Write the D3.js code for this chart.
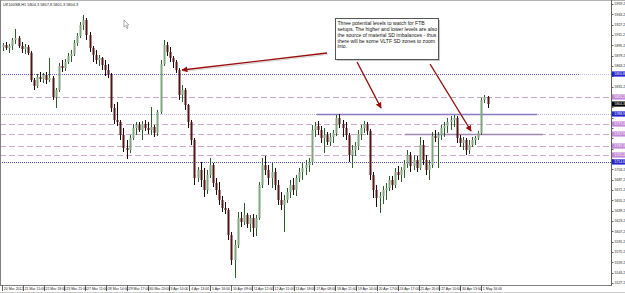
<!DOCTYPE html>
<html><head><meta charset="utf-8">
<script src="https://cdn.jsdelivr.net/npm/d3@7"></script>
<style>
html,body{margin:0;padding:0;background:#fff;overflow:hidden}
svg{display:block;font-family:"Liberation Sans",Arial,sans-serif}
</style>
</head><body>
<svg id="c" width="625" height="293"></svg>
<script>
// ---------------- DATA ----------------
const symbolTitle = "UK100SB,H1";
const lastQuote = [5804.3, 5807.8, 5801.3, 5804.3];
const barHours = 4; // each candle below aggregates 4 hourly bars
// [open, high, low, close]
const bars = [
[5892.6,5898.8,5886.4,5895.7],[5895.7,5900.4,5888.0,5891.1],[5891.1,5897.3,5883.3,5894.2],[5894.2,5906.6,5888.0,5903.5],
[5903.5,5920.5,5897.3,5906.6],[5906.6,5909.7,5891.1,5894.2],[5894.2,5900.4,5883.3,5889.5],[5889.5,5897.3,5881.8,5892.6],
[5892.6,5895.7,5880.2,5883.3],[5883.3,5886.4,5838.4,5841.5],[5841.5,5844.6,5826.0,5832.2],[5832.2,5850.8,5829.1,5846.2],
[5846.2,5853.9,5838.4,5843.1],[5843.1,5852.4,5836.9,5849.3],[5849.3,5853.9,5835.3,5841.5],[5841.5,5875.6,5838.4,5844.6],
[5844.6,5847.7,5810.6,5815.2],[5815.2,5829.1,5798.2,5826.0],[5826.0,5867.9,5822.9,5863.2],[5863.2,5872.5,5853.9,5860.1],
[5860.1,5874.0,5855.5,5869.4],[5869.4,5883.3,5866.3,5878.7],[5878.7,5888.0,5869.4,5881.8],[5881.8,5903.5,5878.7,5898.8],
[5898.8,5914.3,5894.2,5909.7],[5909.7,5931.3,5906.6,5926.7],[5926.7,5942.2,5918.9,5934.4],[5934.4,5937.5,5903.5,5911.2],
[5911.2,5915.9,5884.9,5891.1],[5891.1,5894.2,5869.4,5880.2],[5880.2,5888.0,5866.3,5872.5],[5872.5,5880.2,5863.2,5875.6],
[5875.6,5877.1,5857.0,5864.8],[5864.8,5872.5,5847.7,5857.0],[5857.0,5866.3,5844.6,5849.3],[5849.3,5852.4,5792.0,5798.2],
[5798.2,5804.4,5773.4,5779.6],[5779.6,5807.5,5770.3,5776.5],[5776.5,5779.6,5748.6,5756.4],[5756.4,5767.2,5730.0,5736.2],
[5736.2,5748.6,5719.2,5733.1],[5733.1,5756.4,5728.5,5751.7],[5751.7,5773.4,5748.6,5767.2],[5767.2,5776.5,5756.4,5771.8],
[5771.8,5776.5,5761.0,5764.1],[5764.1,5778.0,5748.6,5773.4],[5773.4,5779.6,5762.6,5767.2],[5767.2,5776.5,5757.9,5764.1],
[5764.1,5799.7,5756.4,5768.8],[5768.8,5771.8,5753.3,5759.5],[5759.5,5795.1,5754.8,5792.0],[5792.0,5872.5,5788.9,5866.3],
[5866.3,5903.5,5863.2,5895.7],[5895.7,5900.4,5878.7,5884.9],[5884.9,5892.6,5869.4,5875.6],[5875.6,5878.7,5860.1,5869.4],
[5869.4,5872.5,5852.4,5857.0],[5857.0,5860.1,5810.6,5818.3],[5818.3,5833.8,5807.5,5826.0],[5826.0,5829.1,5795.1,5802.8],
[5802.8,5804.4,5767.2,5776.5],[5776.5,5779.6,5740.9,5748.6],[5748.6,5751.7,5678.9,5689.8],[5689.8,5706.8,5683.6,5702.2],
[5702.2,5714.6,5675.8,5686.7],[5686.7,5705.3,5660.4,5671.2],[5671.2,5702.2,5665.0,5694.4],[5694.4,5720.8,5689.8,5709.9],
[5709.9,5713.0,5675.8,5682.0],[5682.0,5689.8,5663.5,5671.2],[5671.2,5683.6,5648.0,5655.7],[5655.7,5661.9,5637.1,5643.3],
[5643.3,5652.6,5634.0,5640.2],[5640.2,5643.3,5593.8,5601.5],[5601.5,5606.2,5555.1,5562.8],[5562.8,5593.8,5534.9,5586.0],
[5586.0,5637.1,5581.4,5627.8],[5627.8,5637.1,5613.9,5621.7],[5621.7,5651.1,5617.0,5632.5],[5632.5,5635.6,5612.4,5618.6],
[5618.6,5632.5,5606.2,5627.8],[5627.8,5634.0,5598.4,5612.4],[5612.4,5632.5,5600.0,5627.8],[5627.8,5683.6,5624.8,5678.9],
[5678.9,5720.8,5674.3,5709.9],[5709.9,5723.8,5694.4,5702.2],[5702.2,5709.9,5678.9,5689.8],[5689.8,5713.0,5674.3,5699.1],
[5699.1,5705.3,5671.2,5678.9],[5678.9,5686.7,5648.0,5655.7],[5655.7,5668.1,5640.2,5648.0],[5648.0,5663.5,5606.2,5655.7],
[5655.7,5674.3,5651.1,5668.1],[5668.1,5686.7,5658.8,5678.9],[5678.9,5689.8,5663.5,5671.2],[5671.2,5694.4,5661.9,5689.8],
[5689.8,5705.3,5683.6,5699.1],[5699.1,5713.0,5686.7,5705.3],[5705.3,5717.7,5694.4,5709.9],[5709.9,5720.8,5699.1,5714.6],
[5714.6,5771.8,5709.9,5764.1],[5764.1,5776.5,5753.3,5770.3],[5770.3,5778.0,5756.4,5764.1],[5764.1,5770.3,5744.0,5751.7],
[5751.7,5767.2,5728.5,5756.4],[5756.4,5761.0,5740.9,5745.5],[5745.5,5759.5,5739.3,5753.3],[5753.3,5764.1,5744.0,5759.5],
[5759.5,5787.3,5754.8,5782.7],[5782.7,5788.9,5767.2,5773.4],[5773.4,5779.6,5753.3,5767.2],[5767.2,5776.5,5748.6,5756.4],
[5756.4,5759.5,5714.6,5725.4],[5725.4,5740.9,5705.3,5733.1],[5733.1,5745.5,5723.8,5739.3],[5739.3,5764.1,5733.1,5757.9],
[5757.9,5771.8,5748.6,5767.2],[5767.2,5778.0,5759.5,5773.4],[5773.4,5776.5,5756.4,5762.6],[5762.6,5765.7,5686.7,5694.4],
[5694.4,5699.1,5658.8,5671.2],[5671.2,5678.9,5644.9,5658.8],[5658.8,5668.1,5635.6,5661.9],[5661.9,5677.4,5649.5,5671.2],
[5671.2,5682.0,5655.7,5674.3],[5674.3,5692.9,5669.7,5686.7],[5686.7,5692.9,5671.2,5678.9],[5678.9,5705.3,5674.3,5699.1],
[5699.1,5708.4,5686.7,5694.4],[5694.4,5706.8,5683.6,5702.2],[5702.2,5717.7,5689.8,5711.5],[5711.5,5733.1,5705.3,5725.4],
[5725.4,5730.0,5699.1,5708.4],[5708.4,5725.4,5702.2,5717.7],[5717.7,5723.8,5699.1,5705.3],[5705.3,5753.3,5702.2,5740.9],
[5740.9,5748.6,5709.9,5717.7],[5717.7,5725.4,5694.4,5702.2],[5702.2,5717.7,5686.7,5709.9],[5709.9,5761.0,5705.3,5754.8],
[5754.8,5764.1,5745.5,5751.7],[5751.7,5761.0,5705.3,5756.4],[5756.4,5771.8,5748.6,5767.2],[5767.2,5776.5,5753.3,5770.3],
[5770.3,5782.7,5759.5,5776.5],[5776.5,5785.8,5764.1,5779.6],[5779.6,5787.3,5768.8,5782.7],[5782.7,5785.8,5744.0,5751.7],
[5751.7,5756.4,5737.8,5744.0],[5744.0,5753.3,5733.1,5748.6],[5748.6,5751.7,5725.4,5733.1],[5733.1,5748.6,5726.9,5740.9],
[5740.9,5753.3,5737.8,5748.6],[5748.6,5754.8,5740.9,5751.7],[5751.7,5762.6,5748.6,5759.5],[5759.5,5813.7,5756.4,5810.6],
[5810.6,5818.3,5805.9,5815.2],[5815.2,5816.8,5798.2,5804.3]
];
const timeLabels = ["20 Mar 2012","21 Mar 15:00","22 Mar 18:00","23 Mar 21:00","27 Mar 11:00","28 Mar 14:00",
  "29 Mar 17:00","30 Mar 20:00","3 Apr 10:00","4 Apr 13:00","5 Apr 16:00","10 Apr 09:00","11 Apr 12:00",
  "12 Apr 15:00","13 Apr 18:00","17 Apr 08:00","18 Apr 11:00","19 Apr 14:00","20 Apr 17:00","24 Apr 17:00",
  "25 Apr 20:00","27 Apr 10:00","30 Apr 13:00","1 May 16:00"];
const labelEveryHours = 27;
const yTicks = [5959.2,5943.2,5927.2,5911.2,5895.2,5879.2,5863.2,5847.2,5831.2,5815.2,5799.2,5783.2,5767.2,5751.2,
  5735.2,5719.2,5703.2,5687.2,5671.2,5655.2,5639.2,5623.2,5607.2,5591.2,5575.2,5559.2,5543.2,5527.2];
const levelPrices = [5850.8, 5815.2, 5788.9, 5773.4, 5757.9, 5739.3, 5725.4, 5714.6];
const zonePrices = [5788.9, 5757.9];
const zoneFromHour = [408, 522];
const zoneToHour = [694, 701];
const noteLines = ["Three potential levels to watch for FTB","setups. The higher and lower levels are also",
  "the source of material SD imbalances - thus","there will be some VLTF SD zones to zoom","into."];
const noteBox = {h0: 431.7, h1: 565.3, p0: 5937.5, p1: 5874.0};
// arrows: [fromHour, fromPrice, toHour, toPrice]
const arrows = [[421.4,5883.3,233.4,5857.0],[460.3,5869.4,491.4,5798.2],[554.9,5866.3,608.1,5762.6]];

// ---------------- DRAW ----------------
const W = 625, H = 293, axisX = 611, axisY = 285;
const svg = d3.select("#c");
const x = d3.scaleLinear().domain([0, 621]).range([2, 481]);
const y = d3.scaleLinear().domain([5527.2, 5959.2]).range([283, 4]);

svg.append("rect").attr("width", W).attr("height", H).attr("fill", "#fff");

// level styles (by index)
const lvlStyle = [
  {c:"#6a58c4", d:"1,1"},
  {c:"#c9a9c6", d:"6,3"},
  {c:"#b9aed8", d:"1,1"},
  {c:"#d2a8cc", d:"6,3"},
  {c:"#d2a8cc", d:"6,3"},
  {c:"#d2a8cc", d:"6,3"},
  {c:"#d2a8cc", d:"6,3"},
  {c:"#5050b0", d:"1,1"}
];
const gL = svg.append("g");
gL.selectAll("line.lvl").data(levelPrices).join("line").attr("class","lvl")
  .attr("x1", 0).attr("x2", (d,i)=> i===0 ? 580 : axisX)
  .attr("y1", d=>Math.round(y(d))+0.5).attr("y2", d=>Math.round(y(d))+0.5)
  .attr("stroke", (d,i)=>lvlStyle[i].c).attr("stroke-width", 1)
  .attr("stroke-dasharray", (d,i)=>lvlStyle[i].d);
gL.append("line").attr("x1",580).attr("x2",axisX)
  .attr("y1",Math.round(y(levelPrices[0]))+0.5).attr("y2",Math.round(y(levelPrices[0]))+0.5)
  .attr("stroke","#c4bce6").attr("stroke-dasharray","1,1");
gL.selectAll("line.zone").data(zonePrices).join("line").attr("class","zone")
  .attr("x1",(d,i)=>x(zoneFromHour[i])).attr("x2",(d,i)=>x(zoneToHour[i]))
  .attr("y1", d=>Math.round(y(d))+0.5).attr("y2", d=>Math.round(y(d))+0.5)
  .attr("stroke", (d,i)=> i===0 ? "#8a7ac0" : "#a286b4").attr("stroke-width", 1.3);

// candles
const cx = i => x(i*barHours + 1.5);
const gC = svg.append("g");
const up = d => d[3] >= d[0];
gC.selectAll("line").data(bars).join("line")
  .attr("x1",(d,i)=>Math.round(cx(i))+0.5).attr("x2",(d,i)=>Math.round(cx(i))+0.5)
  .attr("y1",d=>y(d[1])).attr("y2",d=>y(d[2]))
  .attr("stroke",d=>up(d)?"#2e5e2e":"#240606").attr("stroke-width",1);
gC.selectAll("rect").data(bars).join("rect")
  .attr("x",(d,i)=>Math.round(cx(i))-0.5).attr("width",2)
  .attr("y",d=>y(Math.max(d[0],d[3])))
  .attr("height",d=>Math.max(1, Math.abs(y(d[0])-y(d[3]))))
  .attr("fill",d=>up(d)?"#7fa67f":"#521414");

// note box
const bx0 = x(noteBox.h0), bx1 = x(noteBox.h1), by0 = y(noteBox.p0), by1 = y(noteBox.p1);
svg.append("rect").attr("x",bx0+2).attr("y",by0+2).attr("width",bx1-bx0).attr("height",by1-by0).attr("fill","#c8c8c8");
svg.append("rect").attr("x",Math.round(bx0)+0.5).attr("y",Math.round(by0)+0.5).attr("width",Math.round(bx1-bx0)).attr("height",Math.round(by1-by0))
  .attr("fill","#fff").attr("stroke","#555").attr("stroke-width",1);
svg.append("g").selectAll("text").data(noteLines).join("text")
  .attr("x", bx0+2.5).attr("y",(d,i)=>by0+6.8+i*5.9)
  .attr("font-size",5.1).attr("fill","#111").text(d=>d);

// arrows
const defs = svg.append("defs");
defs.append("marker").attr("id","ah").attr("viewBox","0 0 10 10").attr("refX",9).attr("refY",5)
  .attr("markerWidth",6).attr("markerHeight",6).attr("markerUnits","userSpaceOnUse").attr("orient","auto")
  .append("path").attr("d","M0,0L10,5L0,10z").attr("fill","#9a0c0c");
const gA = svg.append("g");
gA.selectAll("line.sh").data(arrows).join("line").attr("class","sh")
  .attr("x1",d=>x(d[0])+1).attr("y1",d=>y(d[1])+1.5).attr("x2",d=>x(d[2])+1).attr("y2",d=>y(d[3])+1.5)
  .attr("stroke","#d6d6d6").attr("stroke-width",1.2);
gA.selectAll("line.ar").data(arrows).join("line").attr("class","ar")
  .attr("x1",d=>x(d[0])).attr("y1",d=>y(d[1])).attr("x2",d=>x(d[2])).attr("y2",d=>y(d[3]))
  .attr("stroke","#9a0c0c").attr("stroke-width",1.3).attr("marker-end","url(#ah)");

// mouse pointer (screenshot artifact)
svg.append("path").attr("d","M124,20 L124,27 L125.6,25.6 L127,28.5 L128,28 L126.7,25.2 L128.8,25 Z")
  .attr("fill","#fff").attr("stroke","#777").attr("stroke-width",0.6);

// frame
svg.append("line").attr("x1",0).attr("x2",W).attr("y1",0.5).attr("y2",0.5).attr("stroke","#b0b0b0");
svg.append("line").attr("x1",0.5).attr("x2",0.5).attr("y1",0).attr("y2",axisY).attr("stroke","#808080");
svg.append("line").attr("x1",axisX+0.5).attr("x2",axisX+0.5).attr("y1",0).attr("y2",axisY+1).attr("stroke","#606060");
svg.append("line").attr("x1",0).attr("x2",axisX+1).attr("y1",axisY+0.5).attr("y2",axisY+0.5).attr("stroke","#808080");
svg.append("line").attr("x1",0).attr("x2",W).attr("y1",H-0.5).attr("y2",H-0.5).attr("stroke","#c8c8c8");

// title
svg.append("text").attr("x",3).attr("y",5.6).attr("font-size",3.9).attr("fill","#222")
  .text(symbolTitle + "  " + lastQuote.map(v=>v.toFixed(1)).join(" "));

// highlighted level labels (levels + current price)
const hlBg = ["#2424c8","#c48ad8","#2424c8","#c48ad8","#c48ad8","#c48ad8","#c48ad8","#2424c8"];
const hlItems = levelPrices.map((p,i)=>({p, bg:hlBg[i]}));
hlItems.push({p:bars[bars.length-1][3], bg:"#000"});
const hlY = hlItems.map(d=>y(d.p));

// y axis (tick labels hidden where a highlighted label covers them)
const gY = svg.append("g");
gY.selectAll("line").data(yTicks).join("line")
  .attr("x1",axisX).attr("x2",axisX+2.5).attr("y1",d=>Math.round(y(d))+0.5).attr("y2",d=>Math.round(y(d))+0.5)
  .attr("stroke","#606060");
gY.selectAll("text").data(yTicks.filter(t=>hlY.every(hy=>Math.abs(hy-y(t))>5.4))).join("text")
  .attr("x",axisX+3.5).attr("y",d=>y(d)).attr("dy","0.35em")
  .attr("font-size",3.5).attr("fill","#222").text(d=>d.toFixed(1));

const gH = svg.append("g");
gH.selectAll("rect").data(hlItems).join("rect")
  .attr("x",axisX+1).attr("y",d=>y(d.p)-2.6).attr("width",W-axisX-1).attr("height",5.2).attr("fill",d=>d.bg);
gH.selectAll("text").data(hlItems).join("text")
  .attr("x",axisX+3.5).attr("y",d=>y(d.p)).attr("dy","0.35em")
  .attr("font-size",3.4).attr("fill","#fff").text(d=>d.p.toFixed(1));

// x axis
const gX = svg.append("g");
gX.selectAll("line").data(timeLabels).join("line")
  .attr("x1",(d,i)=>Math.round(x(i*labelEveryHours))+0.5).attr("x2",(d,i)=>Math.round(x(i*labelEveryHours))+0.5)
  .attr("y1",axisY).attr("y2",axisY+6).attr("stroke","#606060");
gX.selectAll("text").data(timeLabels).join("text")
  .attr("x",(d,i)=>x(i*labelEveryHours)+1.8).attr("y",290.3)
  .attr("font-size",3.5).attr("fill","#222").text(d=>d);
</script>
</body></html>
